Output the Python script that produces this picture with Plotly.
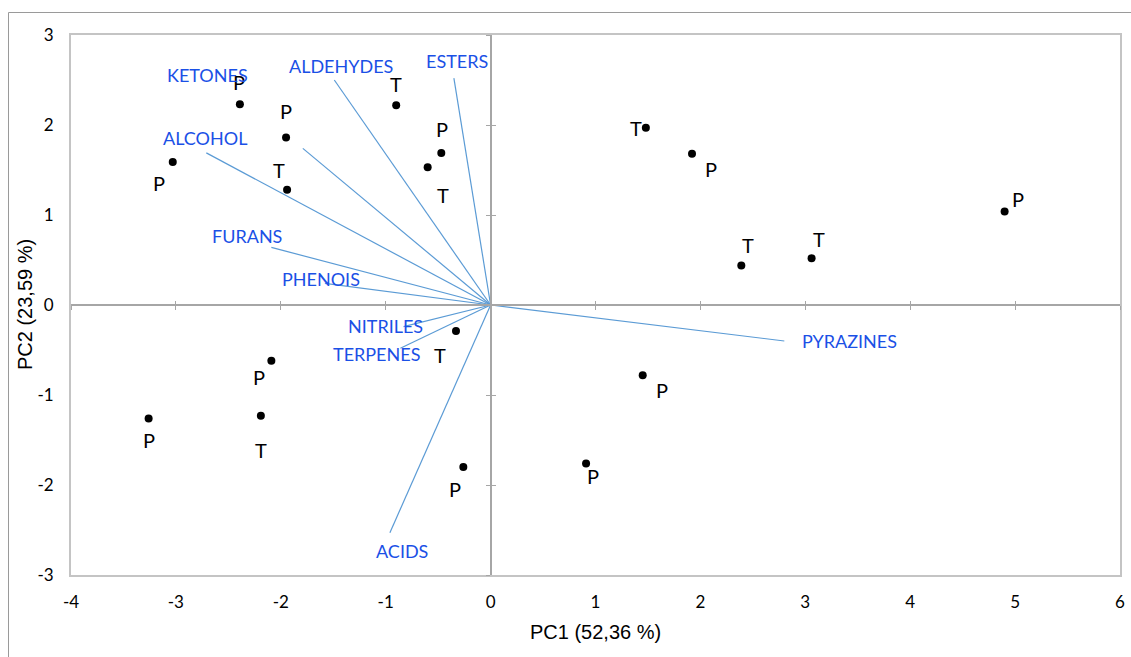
import plotly.graph_objects as go

# ---- data ----
sample_labels = ["P", "P", "P", "T", "T", "P", "T", "T", "P", "T", "T", "P",
                 "T", "P", "P", "T", "P", "P", "P"]
pc1_scores = [-2.39, -1.95, -3.03, -1.94, -0.90, -0.47, -0.60, 1.48, 1.92, 2.39, 3.06, 4.90,
              -0.33, -2.09, -3.26, -2.19, -0.26, 0.91, 1.45]
pc2_scores = [2.23, 1.86, 1.59, 1.28, 2.22, 1.69, 1.53, 1.97, 1.68, 0.44, 0.52, 1.04,
              -0.29, -0.62, -1.26, -1.23, -1.80, -1.76, -0.78]

variables = ["ALCOHOL", "KETONES", "ALDEHYDES", "ESTERS", "FURANS", "PHENOIS",
             "NITRILES", "TERPENES", "ACIDS", "PYRAZINES"]
loading_pc1 = [-2.71, -1.79, -1.49, -0.35, -2.09, -1.58, -0.83, -0.86, -0.96, 2.80]
loading_pc2 = [1.69, 1.74, 2.50, 2.52, 0.64, 0.24, -0.24, -0.48, -2.53, -0.40]

x_ticks = [-4, -3, -2, -1, 0, 1, 2, 3, 4, 5, 6]
x_ticktext = ["-4", "-3", "-2", "-1", "0", "1", "2", "3", "4", "5", "6"]
y_ticks = [-3, -2, -1, 0, 1, 2, 3]
y_ticktext = ["-3", "-2", "-1", "0", "1", "2", "3"]

x_title = "PC1 (52,36 %)"
y_title = "PC2 (23,59 %)"

# ---- label offsets in pixels (style) ----
sample_offsets = [(-1, 22), (0, 27), (-14, -21), (-8, 20), (0, 21), (1, 24), (15, -28),
                  (-10, 0), (19, -15), (7, 20), (7, 19), (13, 12),
                  (-16, -24), (-12, -16), (0, -22), (0, -34), (-8, -22), (7, -13), (19, -15)]
var_offsets = [(-1, 15), (-95, 73), (7, 14), (3, 17), (-24, 11), (-4, 4),
               (-18, 1), (-24, -6), (12, -18), (65, 0)]

LINE_BLUE = "#5b9bd5"
TEXT_BLUE = "#1a50e6"
ZERO_GRAY = "#a6a6a6"
BORDER_GRAY = "#c4c4c4"
TEXT_FONT = "Lato"

fig = go.Figure()

# loading vectors
for vx, vy in zip(loading_pc1, loading_pc2):
    fig.add_trace(go.Scatter(x=[0, vx], y=[0, vy], mode="lines",
                             line=dict(color=LINE_BLUE, width=1.2),
                             hoverinfo="skip", showlegend=False))

# sample scores
fig.add_trace(go.Scatter(x=pc1_scores, y=pc2_scores, mode="markers",
                         marker=dict(color="black", size=8),
                         showlegend=False))

# dummy traces for the zero-crossing axes
fig.add_trace(go.Scatter(x=[], y=[], xaxis="x2", yaxis="y", showlegend=False))
fig.add_trace(go.Scatter(x=[], y=[], xaxis="x3", yaxis="y", showlegend=False))
fig.add_trace(go.Scatter(x=[], y=[], xaxis="x", yaxis="y2", showlegend=False))
fig.add_trace(go.Scatter(x=[], y=[], xaxis="x", yaxis="y3", showlegend=False))

W, H = 1131, 657
ml, mr, mt, mb = 71, 11, 35, 82
pw, ph = W - ml - mr, H - mt - mb

def px_to_paper_x(px):
    return (px - ml) / pw

def px_to_paper_y(py):
    return 1 - (py - mt) / ph

annotations = []
for lab, x, y, (dx, dy) in zip(sample_labels, pc1_scores, pc2_scores, sample_offsets):
    annotations.append(dict(x=x, y=y, xref="x", yref="y", text=lab, showarrow=False,
                            xshift=dx, yshift=dy, xanchor="center", yanchor="middle",
                            font=dict(family=TEXT_FONT, size=20, color="black")))
for lab, x, y, (dx, dy) in zip(variables, loading_pc1, loading_pc2, var_offsets):
    annotations.append(dict(x=x, y=y, xref="x", yref="y", text=lab, showarrow=False,
                            xshift=dx, yshift=dy, xanchor="center", yanchor="middle",
                            font=dict(family=TEXT_FONT, size=18, color=TEXT_BLUE)))
annotations.append(dict(x=0.5, y=px_to_paper_y(632), xref="paper", yref="paper",
                        text=x_title, showarrow=False, xanchor="center", yanchor="middle",
                        font=dict(family="Liberation Sans", size=20, color="black")))
annotations.append(dict(x=px_to_paper_x(25), y=0.5, xref="paper", yref="paper",
                        text=y_title, showarrow=False, textangle=-90,
                        xanchor="center", yanchor="middle",
                        font=dict(family="Liberation Sans", size=20, color="black")))

shapes = [
    dict(type="line", xref="paper", yref="paper",
         x0=px_to_paper_x(8.5), x1=px_to_paper_x(8.5),
         y0=px_to_paper_y(12.5), y1=px_to_paper_y(H + 5),
         line=dict(color="#9a9a9a", width=1)),
    dict(type="line", xref="paper", yref="paper",
         x0=px_to_paper_x(8.5), x1=px_to_paper_x(W + 5),
         y0=px_to_paper_y(12.5), y1=px_to_paper_y(12.5),
         line=dict(color="#9a9a9a", width=1)),
]

zero_common = dict(showgrid=False, zeroline=False, showticklabels=False,
                   ticklen=4, tickwidth=1, tickcolor=ZERO_GRAY, anchor="free",
                   automargin=False)

fig.update_layout(
    width=W, height=H,
    margin=dict(l=ml, r=mr, t=mt, b=mb, autoexpand=False),
    paper_bgcolor="white", plot_bgcolor="white",
    showlegend=False,
    xaxis=dict(range=[-4, 6], tickvals=x_ticks, ticktext=x_ticktext,
               ticks="outside", ticklen=11,
               tickcolor="rgba(0,0,0,0)", showgrid=False, zeroline=False,
               showline=True, mirror=True, linecolor=BORDER_GRAY, linewidth=2,
               automargin=False,
               tickfont=dict(family=TEXT_FONT, size=17, color="black")),
    yaxis=dict(range=[-3, 3], tickvals=y_ticks, ticktext=y_ticktext,
               ticks="outside", ticklen=12,
               tickcolor="rgba(0,0,0,0)", showgrid=False, zeroline=False,
               showline=True, mirror=True, linecolor=BORDER_GRAY, linewidth=2,
               automargin=False,
               tickfont=dict(family=TEXT_FONT, size=17, color="black")),
    xaxis2=dict(range=[-4, 6], overlaying="x", position=0.5, tickvals=x_ticks,
                ticks="outside", showline=True, linecolor=ZERO_GRAY, linewidth=2,
                **zero_common),
    xaxis3=dict(range=[-4, 6], overlaying="x", position=0.5, tickvals=x_ticks,
                ticks="inside", showline=False, **zero_common),
    yaxis2=dict(range=[-3, 3], overlaying="y", position=0.4, tickvals=y_ticks,
                ticks="outside", showline=True, linecolor=ZERO_GRAY, linewidth=2,
                **zero_common),
    yaxis3=dict(range=[-3, 3], overlaying="y", position=0.4, tickvals=y_ticks,
                ticks="inside", showline=False, **zero_common),
    annotations=annotations,
    shapes=shapes,
)

fig.write_html("out.html")
